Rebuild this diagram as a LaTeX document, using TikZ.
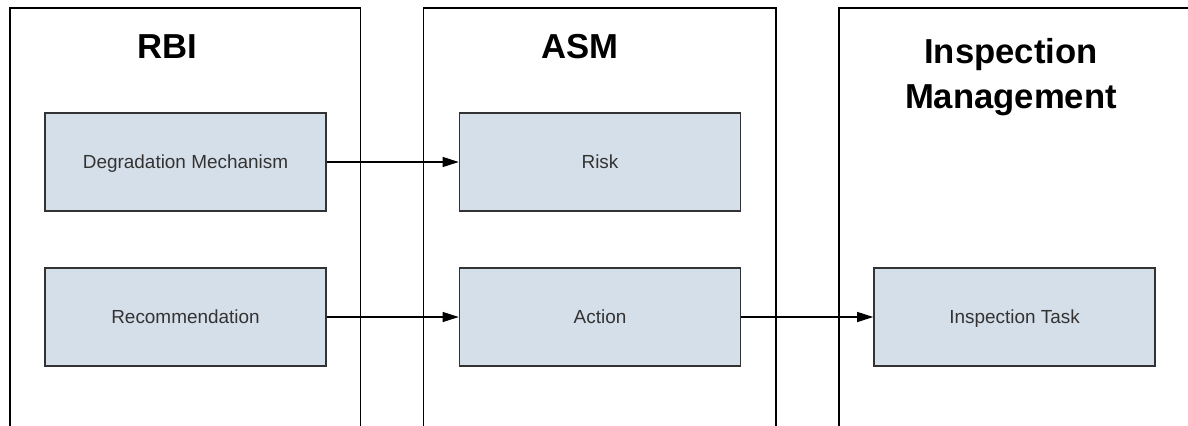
\documentclass[tikz,border=0pt]{standalone}
\usepackage{fontspec}
\setmainfont{Liberation Sans}
\usetikzlibrary{arrows.meta}
\definecolor{boxfill}{RGB}{213,223,234}
\definecolor{boxline}{RGB}{51,51,51}
\definecolor{boxtext}{RGB}{51,51,51}
\tikzset{
  lane/.style={draw=black, line width=0.8pt},
  entity/.style={draw=boxline, fill=boxfill, line width=1.2pt,
    minimum width=210.75pt, minimum height=73.5pt, inner sep=0pt,
    text height=10.2pt, text depth=0pt,
    text=boxtext, font=\fontsize{14.2}{17}\selectfont},
  title/.style={font=\fontsize{26}{33.75}\selectfont\bfseries, text=black, align=center, inner sep=0pt},
  link/.style={draw=black, line width=0.8pt, -{Triangle[length=12pt,width=7.5pt]}}
}
\begin{document}
\begin{tikzpicture}[x=0.75pt,y=-0.75pt]
\useasboundingbox (0,0) rectangle (1188,425);
% lanes
\draw[lane] (10,426) -- (10,8) -- (360.5,8) -- (360.5,426);
\draw[lane] (423.5,426) -- (423.5,8) -- (776,8) -- (776,426);
\draw[lane] (839,426) -- (839,8) -- (1189,8);
% titles
\node[title, anchor=base] (t1) at (167.5,58) {RBI};
\node[title, anchor=base] (t2) at (580,58) {ASM};
\node[title, anchor=base] (t3) at (1011,108) {Inspection\\Management};
% boxes
\node[entity] (dm) at (185.5,162) {Degradation Mechanism};
\node[entity] (rec) at (185.5,317) {Recommendation};
\node[entity] (risk) at (600,162) {Risk};
\node[entity] (act) at (600,317) {Action};
\node[entity] (task) at (1014.5,317) {Inspection Task};
% links
\draw[link] (dm.east) -- (risk.west);
\draw[link] (rec.east) -- (act.west);
\draw[link] (act.east) -- (task.west);
\end{tikzpicture}
\end{document}
